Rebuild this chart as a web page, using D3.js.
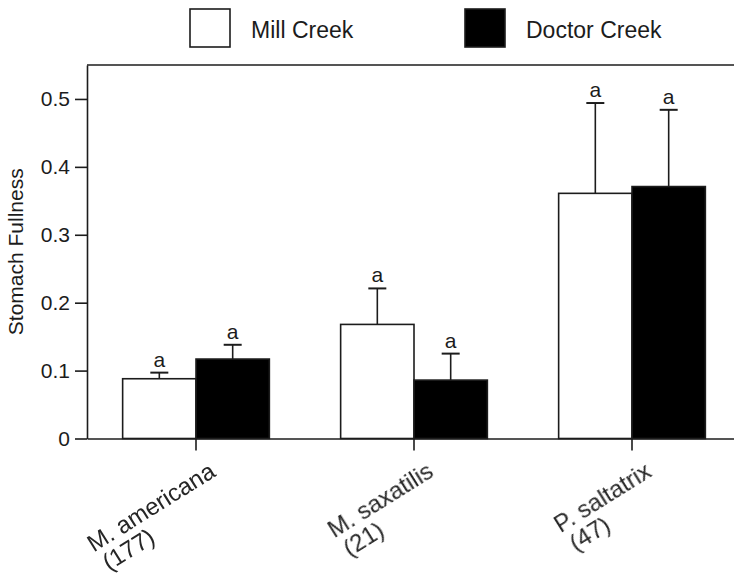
<!DOCTYPE html>
<html>
<head>
<meta charset="utf-8">
<script src="https://cdn.jsdelivr.net/npm/d3@7"></script>
<style>
  body { margin: 0; background: #fff; }
  svg { display: block; font-family: "Liberation Sans", Arial, sans-serif; }
</style>
</head>
<body>
<script>
// Stomach fullness by species and creek (mean with upper SE whisker)
const species = ["M. americana", "M. saxatilis", "P. saltatrix"];
const sampleSizes = ["(177)", "(21)", "(47)"];
const seriesNames = ["Mill Creek", "Doctor Creek"];
const seriesFills = ["#ffffff", "#000000"];
const millMean = [0.088, 0.168, 0.361];
const millSE = [0.009, 0.053, 0.133];
const doctorMean = [0.117, 0.086, 0.371];
const doctorSE = [0.021, 0.039, 0.113];
const millLetters = ["a", "a", "a"];
const doctorLetters = ["a", "a", "a"];
const yTicks = [0, 0.1, 0.2, 0.3, 0.4, 0.5];
const yTickLabels = ["0", "0.1", "0.2", "0.3", "0.4", "0.5"];

const W = 734, H = 577;
const plotLeft = 87, plotRight = 741, plotTop = 65, plotBottom = 438.5;
const ink = "#1c1c1c";

const svg = d3.select("body").append("svg")
  .attr("width", W).attr("height", H);

// Soft edge for the rotated category labels
svg.append("defs").append("filter").attr("id", "soft")
  .append("feGaussianBlur").attr("stdDeviation", 0.45);

const x = d3.scaleBand()
  .domain(d3.range(species.length))
  .range([plotLeft, plotRight])
  .paddingInner(0.327)
  .paddingOuter(0.1635);

const sub = d3.scaleBand()
  .domain(seriesNames)
  .range([0, x.bandwidth()]);

const y = d3.scaleLinear()
  .domain([0, 0.55])
  .range([plotBottom, plotTop]);

// Frame top line
svg.append("line")
  .attr("x1", plotLeft).attr("x2", plotRight)
  .attr("y1", plotTop).attr("y2", plotTop)
  .attr("stroke", ink).attr("stroke-width", 1.6);

// Bars, whiskers and letters
const rows = [];
species.forEach((s, i) => {
  rows.push({cat: i, series: seriesNames[0], mean: millMean[i], se: millSE[i], letter: millLetters[i], fill: seriesFills[0]});
  rows.push({cat: i, series: seriesNames[1], mean: doctorMean[i], se: doctorSE[i], letter: doctorLetters[i], fill: seriesFills[1]});
});

const bars = svg.append("g").selectAll("g").data(rows).join("g")
  .attr("transform", d => `translate(${x(d.cat) + sub(d.series)},0)`);

const bw = sub.bandwidth();
const capW = 18;

bars.append("line")
  .attr("x1", bw / 2).attr("x2", bw / 2)
  .attr("y1", d => y(d.mean)).attr("y2", d => y(d.mean + d.se))
  .attr("stroke", ink).attr("stroke-width", 1.6);
bars.append("line")
  .attr("x1", bw / 2 - capW / 2).attr("x2", bw / 2 + capW / 2)
  .attr("y1", d => y(d.mean + d.se)).attr("y2", d => y(d.mean + d.se))
  .attr("stroke", ink).attr("stroke-width", 2);
bars.append("rect")
  .attr("x", 0).attr("width", bw)
  .attr("y", d => y(d.mean))
  .attr("height", d => plotBottom - y(d.mean))
  .attr("fill", d => d.fill)
  .attr("stroke", ink).attr("stroke-width", 1.6);
bars.append("text")
  .attr("x", bw / 2).attr("y", d => y(d.mean + d.se) - 6)
  .attr("text-anchor", "middle")
  .attr("font-size", 21).attr("fill", ink)
  .text(d => d.letter);

// Y axis
const yAxis = svg.append("g")
  .attr("transform", `translate(${plotLeft},0)`)
  .call(d3.axisLeft(y).tickValues(yTicks)
    .tickFormat((d, i) => yTickLabels[i])
    .tickSize(12).tickSizeOuter(0).tickPadding(5));
yAxis.selectAll("path,line").attr("stroke", ink).attr("stroke-width", 1.6);
yAxis.selectAll("text").attr("font-size", 21).attr("fill", ink)
  .attr("font-family", "\"Liberation Sans\", Arial, sans-serif");

// X axis
const xAxis = svg.append("g")
  .attr("transform", `translate(0,${plotBottom})`)
  .call(d3.axisBottom(x).tickFormat("").tickSize(12).tickSizeOuter(0));
xAxis.selectAll("path,line").attr("stroke", ink).attr("stroke-width", 1.6);

// Rotated category labels: species name and sample size
const angle = 32;
const labels = svg.append("g").attr("filter", "url(#soft)")
  .selectAll("g").data(species).join("g")
  .attr("transform", (d, i) => `translate(${x(i) + x.bandwidth() / 2 + 21},${plotBottom + 37}) rotate(${-angle})`)
  .attr("font-size", 24).attr("fill", "#262626");
labels.append("text")
  .attr("class", "sp")
  .attr("text-anchor", "end")
  .text(d => d);
labels.each(function (d, i) {
  const g = d3.select(this);
  const w = g.select("text.sp").node().getComputedTextLength();
  g.append("text")
    .attr("x", -w + 3).attr("y", 24)
    .text(sampleSizes[i]);
});

// Y axis title
svg.append("text")
  .attr("transform", `translate(23,${(plotTop + plotBottom) / 2}) rotate(-90)`)
  .attr("text-anchor", "middle")
  .attr("font-size", 21).attr("fill", ink)
  .text("Stomach Fullness");

// Legend
const legendX = [190, 465];
const legend = svg.append("g").selectAll("g").data(seriesNames).join("g")
  .attr("transform", (d, i) => `translate(${legendX[i]},9)`);
legend.append("rect")
  .attr("width", 40).attr("height", 38)
  .attr("fill", (d, i) => seriesFills[i])
  .attr("stroke", ink).attr("stroke-width", 1.6);
legend.append("text")
  .attr("x", 61).attr("y", 29)
  .attr("font-size", 23).attr("fill", ink)
  .text(d => d);
</script>
</body>
</html>
